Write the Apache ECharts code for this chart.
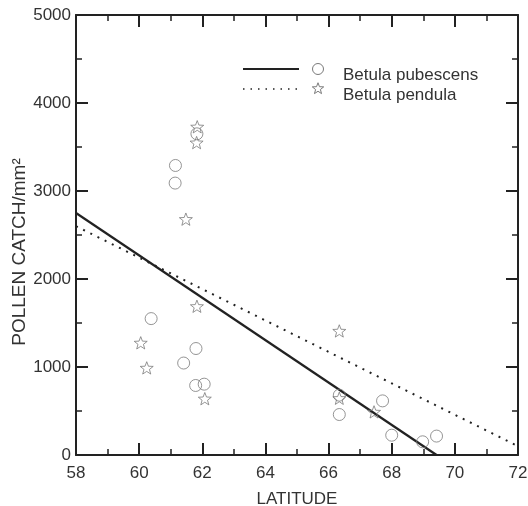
<!DOCTYPE html>
<html>
<head>
<meta charset="utf-8">
<script src="https://cdn.jsdelivr.net/npm/echarts@6/dist/echarts.min.js"></script>
<style>
  html, body { margin: 0; padding: 0; background: #fff; }
  #chart { width: 528px; height: 506px; }
</style>
</head>
<body>
<div id="chart"></div>
<script>
// Pollen catch (grains per mm²) against latitude for two birch species
const pubescensLat   = [61.83, 61.15, 61.14, 60.38, 61.80, 61.41, 61.79, 62.06, 66.34, 66.34, 67.71, 68.00, 68.98, 69.42];
const pubescensCatch = [3650, 3290, 3090, 1550, 1210, 1045, 790, 805, 680, 460, 615, 225, 150, 215];
const pendulaLat     = [61.84, 61.82, 61.48, 61.83, 60.05, 60.24, 62.08, 66.34, 66.34, 67.44];
const pendulaCatch   = [3730, 3550, 2680, 1690, 1275, 990, 640, 1410, 645, 490];

// Fitted regression lines (endpoints in latitude / catch units)
const pubescensTrendLat   = [58, 69.42];
const pubescensTrendCatch = [2750, 0];
const pendulaTrendLat     = [58, 72];
const pendulaTrendCatch   = [2600, 100];

const xTicks = [58, 60, 62, 64, 66, 68, 70, 72];
const yTicks = [0, 1000, 2000, 3000, 4000, 5000];
const speciesNames = ['Betula pubescens', 'Betula pendula'];

const zip = (a, b) => a.map((v, i) => [v, b[i]]);

// Five-pointed hollow star outline in a 100x100 box
const STAR_PTS = [[50, 0], [62.34, 33.01], [97.55, 34.55], [69.97, 56.49], [79.39, 90.45],
                  [50, 71], [20.61, 90.45], [30.03, 56.49], [2.45, 34.55], [37.66, 33.01]];
const STAR = 'path://M' + STAR_PTS.map(p => p[0] + ' ' + p[1]).join(' L') + ' Z';
const starAt = (cx, cy, size) => STAR_PTS.map(p => [cx + (p[0] - 50) * size / 100, cy + (p[1] - 48) * size / 100]);

const FONT = '"Liberation Sans", Arial, sans-serif';
const FS = 17;
const INK = '#222';
const TXT = '#333';
const MARK = '#7a7a7a';

const frameAxis = (extra) => Object.assign({
  type: 'value',
  axisLine: { show: true, onZero: false, lineStyle: { color: INK, width: 2 } },
  axisTick: { show: true, inside: true, length: 12, lineStyle: { color: INK, width: 2 } },
  minorTick: { show: true, splitNumber: 2, length: 6, lineStyle: { color: INK, width: 1.5 } },
  splitLine: { show: false },
  axisLabel: { show: false }
}, extra);

// Key in the upper right: line sample, marker, species name
const keyRow = (y, dashed, marker, label) => [
  { type: 'line', shape: { x1: 243, y1: y, x2: 299, y2: y },
    style: dashed ? { stroke: INK, lineWidth: 1.5, lineDash: [1.5, 6] } : { stroke: INK, lineWidth: 2 } },
  marker,
  { type: 'text', style: { text: label, x: 343, y: y + 6, verticalAlign: 'middle',
    font: FS + 'px ' + FONT, fill: TXT } }
];

const chart = echarts.init(document.getElementById('chart'), null, { renderer: 'canvas' });

chart.setOption({
  backgroundColor: '#fff',
  animation: false,
  grid: { left: 76, right: 10, top: 15, bottom: 51, containLabel: false, outerBoundsMode: 'none' },
  xAxis: [
    frameAxis({
      position: 'bottom', min: xTicks[0], max: xTicks[xTicks.length - 1], interval: 2,
      name: 'LATITUDE', nameLocation: 'middle', nameGap: 36,
      nameTextStyle: { fontFamily: FONT, fontSize: FS, color: TXT },
      axisLabel: { show: true, margin: 10, fontFamily: FONT, fontSize: FS, color: TXT }
    }),
    frameAxis({ position: 'top', min: xTicks[0], max: xTicks[xTicks.length - 1], interval: 2 })
  ],
  yAxis: [
    frameAxis({
      position: 'left', min: yTicks[0], max: yTicks[yTicks.length - 1], interval: 1000,
      name: 'POLLEN CATCH/mm²', nameLocation: 'middle', nameGap: 47, nameMoveOverlap: false,
      nameTextStyle: { fontFamily: FONT, fontSize: 19, color: TXT, padding: [0, 0, 0, -34] },
      axisLabel: { show: true, margin: 5, fontFamily: FONT, fontSize: FS, color: TXT,
                   formatter: (v) => String(v) }
    }),
    frameAxis({ position: 'right', min: yTicks[0], max: yTicks[yTicks.length - 1], interval: 1000 })
  ],
  graphic: [
    ...keyRow(69, false,
      { type: 'circle', shape: { cx: 318, cy: 69, r: 5.5 },
        style: { fill: 'none', stroke: MARK, lineWidth: 1 } },
      speciesNames[0]),
    ...keyRow(89, true,
      { type: 'polygon', shape: { points: starAt(318, 88.5, 12) },
        style: { fill: 'none', stroke: MARK, lineWidth: 1 } },
      speciesNames[1])
  ],
  series: [
    {
      name: 'pubescens trend', type: 'line', data: zip(pubescensTrendLat, pubescensTrendCatch),
      symbol: 'none', lineStyle: { color: INK, width: 2.2 }, z: 3
    },
    {
      name: 'pendula trend', type: 'line', data: zip(pendulaTrendLat, pendulaTrendCatch),
      symbol: 'none', lineStyle: { color: INK, width: 2, type: [2, 6] }, z: 3
    },
    {
      name: speciesNames[0], type: 'scatter', data: zip(pubescensLat, pubescensCatch),
      symbol: 'circle', symbolSize: 12,
      itemStyle: { color: 'rgba(255,255,255,0)', borderColor: MARK, borderWidth: 1 }, z: 4
    },
    {
      name: speciesNames[1], type: 'scatter', data: zip(pendulaLat, pendulaCatch),
      symbol: STAR, symbolSize: 13, symbolKeepAspect: true,
      itemStyle: { color: 'rgba(255,255,255,0)', borderColor: MARK, borderWidth: 1 }, z: 4
    }
  ]
});
</script>
</body>
</html>
